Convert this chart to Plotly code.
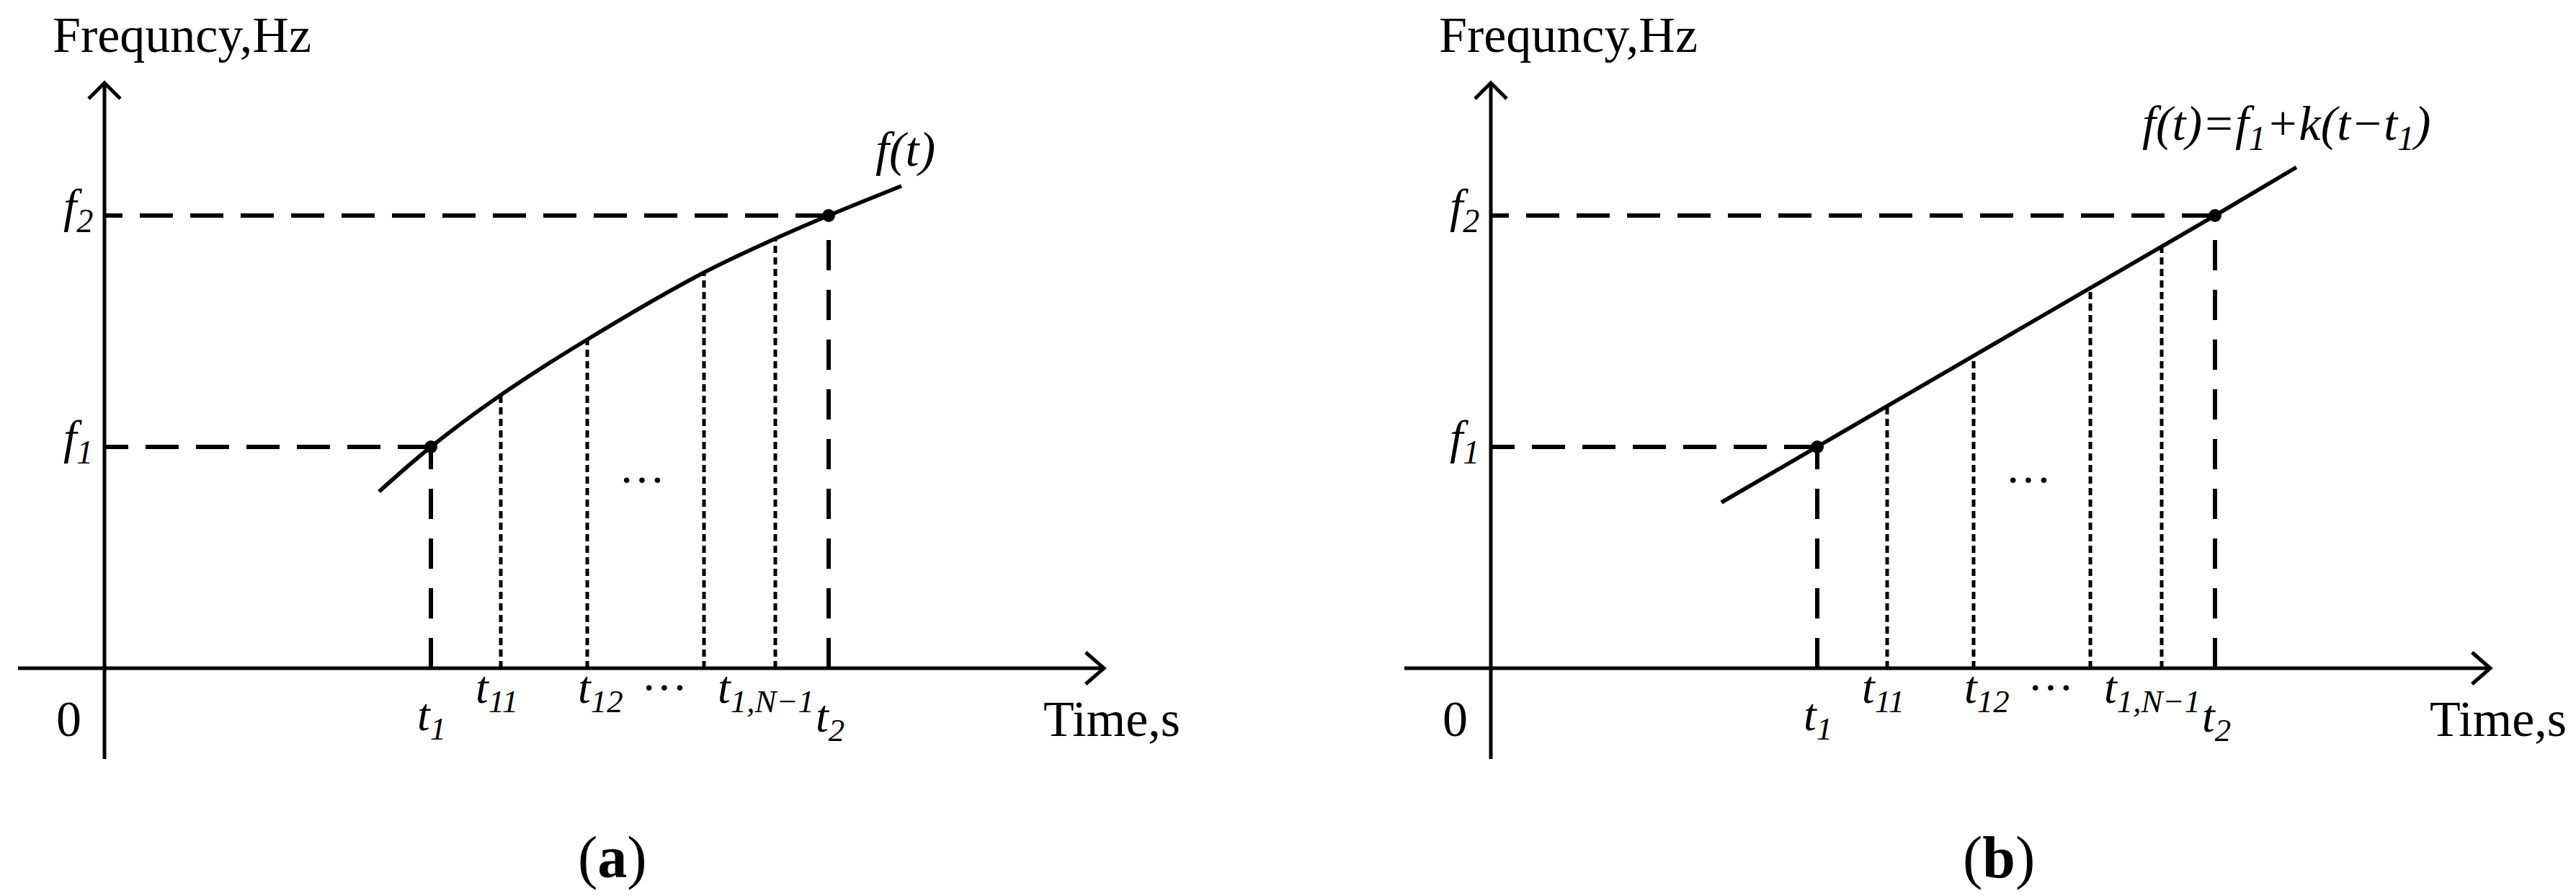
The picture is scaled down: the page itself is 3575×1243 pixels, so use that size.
import plotly.graph_objects as go

# ---------------- data (diagram units: time along x, frequency along y) ----------------
T1, T2 = 4.53, 10.05                  # t1, t2
F1, F2 = 3.07, 6.28                   # f1, f2
t_inner = [5.50, 6.70, 8.32, 9.31]    # t11, t12, ..., t1,N-1

# panel (a): nonlinear f(t)
curve_a_t = [3.81, 4.53, 5.50, 6.70, 8.32, 9.31, 10.05, 11.06]
curve_a_f = [2.45, 3.07, 3.79, 4.56, 5.49, 5.96, 6.28, 6.69]
inner_a_f = [3.79, 4.56, 5.49, 5.96]

# panel (b): linear f(t) = f1 + k(t - t1)
line_b_t = [3.20, 4.53, 10.05, 11.18]
line_b_f = [2.30, 3.07, 6.28, 6.95]
inner_b_f = [3.63, 4.32, 5.26, 5.83]

x_axis_ext = [-1.20, 13.87]
y_axis_ext = [-1.26, 8.12]

tick_labels = ["<i>t</i><sub><i>1</i></sub>", "<i>t</i><sub><i>11</i></sub>",
               "<i>t</i><sub><i>12</i></sub>", "···",
               "<i>t</i><sub><i>1,N−1</i></sub>", "<i>t</i><sub><i>2</i></sub>"]
tick_label_t = [4.54, 5.44, 6.88, 7.77, 9.18, 10.07]
tick_label_f = [-0.69, -0.31, -0.31, -0.26, -0.31, -0.71]

freq_labels = ["<i>f</i><sub><i>1</i></sub>", "<i>f</i><sub><i>2</i></sub>"]

# ---------------- styling ----------------
FONT = "Liberation Serif, Times New Roman, serif"
BLACK = "#000000"
AXIS_W = 5
CURVE_W = 5.5
DASH_W = 6
DOT_W = 5
ARROW = 0.22

fig = go.Figure()


def add_line(xs, ys, xa, ya, width, dash="solid", shape="linear"):
    fig.add_trace(go.Scatter(x=xs, y=ys, xaxis=xa, yaxis=ya, mode="lines",
                             line=dict(color=BLACK, width=width, dash=dash,
                                       shape=shape, smoothing=1.0),
                             hoverinfo="skip", showlegend=False))


def add_text(text, x, y, xr, yr, size=66, xanchor="center"):
    fig.add_annotation(text=text, x=x, y=y, xref=xr, yref=yr, showarrow=False,
                       xanchor=xanchor, yanchor="middle",
                       font=dict(family=FONT, size=size, color=BLACK))


panels = [
    dict(xa="x", ya="y", ct=curve_a_t, cf=curve_a_f, inner=inner_a_f,
         shape="spline", label="<i>f(t)</i>", lx=11.11, ly=7.20,
         caption="(<b>a</b>)"),
    dict(xa="x2", ya="y2", ct=line_b_t, cf=line_b_f, inner=inner_b_f,
         shape="linear",
         label="<i>f(t)=f<sub>1</sub>+k(t−t<sub>1</sub>)</i>", lx=11.04, ly=7.52,
         caption="(<b>b</b>)"),
]

for p in panels:
    xa, ya = p["xa"], p["ya"]
    # dashed guides
    add_line([T1, 0], [F1, F1], xa, ya, DASH_W, "46px,24px")
    add_line([T2, 0], [F2, F2], xa, ya, DASH_W, "46px,24px")
    add_line([T1, T1], [0, F1], xa, ya, DASH_W, "42px,27px")
    add_line([T2, T2], [0, F2], xa, ya, DASH_W, "42px,27px")
    # dotted subdivisions
    for t, f in zip(t_inner, p["inner"]):
        add_line([t, t], [0, f], xa, ya, DOT_W, "10px,6px")
    # axes with open arrowheads
    add_line(x_axis_ext, [0, 0], xa, ya, AXIS_W)
    add_line([x_axis_ext[1] - ARROW * 1.15, x_axis_ext[1], x_axis_ext[1] - ARROW * 1.15],
             [ARROW, 0, -ARROW], xa, ya, AXIS_W)
    add_line([0, 0], y_axis_ext, xa, ya, AXIS_W)
    add_line([-ARROW, 0, ARROW],
             [y_axis_ext[1] - ARROW, y_axis_ext[1], y_axis_ext[1] - ARROW], xa, ya, AXIS_W)
    # the frequency law
    add_line(p["ct"], p["cf"], xa, ya, CURVE_W, shape=p["shape"])
    fig.add_trace(go.Scatter(x=[T1, T2], y=[F1, F2], xaxis=xa, yaxis=ya, mode="markers",
                             marker=dict(color=BLACK, size=18),
                             hoverinfo="skip", showlegend=False))

    xr, yr = xa, ya
    add_text("Frequncy,Hz", 1.07, 8.79, xr, yr, size=70)
    add_text("Time,s", 13.98, -0.70, xr, yr, size=70)
    add_text("0", -0.50, -0.70, xr, yr, size=70)
    add_text(freq_labels[0], -0.14, F1 + 0.09, xr, yr, size=66, xanchor="right")
    add_text(freq_labels[1], -0.14, F2 + 0.09, xr, yr, size=66, xanchor="right")
    for txt, tx, ty in zip(tick_labels, tick_label_t, tick_label_f):
        add_text(txt, tx, ty, xr, yr, size=64)
    add_text("···", 7.46, 2.62, xr, yr, size=64)
    add_text(p["label"], p["lx"], p["ly"], xr, yr, size=68)
    add_text(p["caption"], 7.05, -2.62, xr, yr, size=82)

Y_RANGE = [-3.24, 9.19]
fig.update_layout(
    width=3575, height=1243,
    margin=dict(l=0, r=0, t=0, b=0),
    paper_bgcolor="white", plot_bgcolor="white",
    showlegend=False,
    xaxis=dict(domain=[0, 0.5], range=[-1.37, 16.505], visible=False, anchor="y"),
    yaxis=dict(domain=[0, 1], range=Y_RANGE, visible=False, anchor="x"),
    xaxis2=dict(domain=[0.5, 1], range=[-2.735, 15.14], visible=False, anchor="y2"),
    yaxis2=dict(domain=[0, 1], range=Y_RANGE, visible=False, anchor="x2"),
)

fig.write_html("out.html", config={"displayModeBar": False})
